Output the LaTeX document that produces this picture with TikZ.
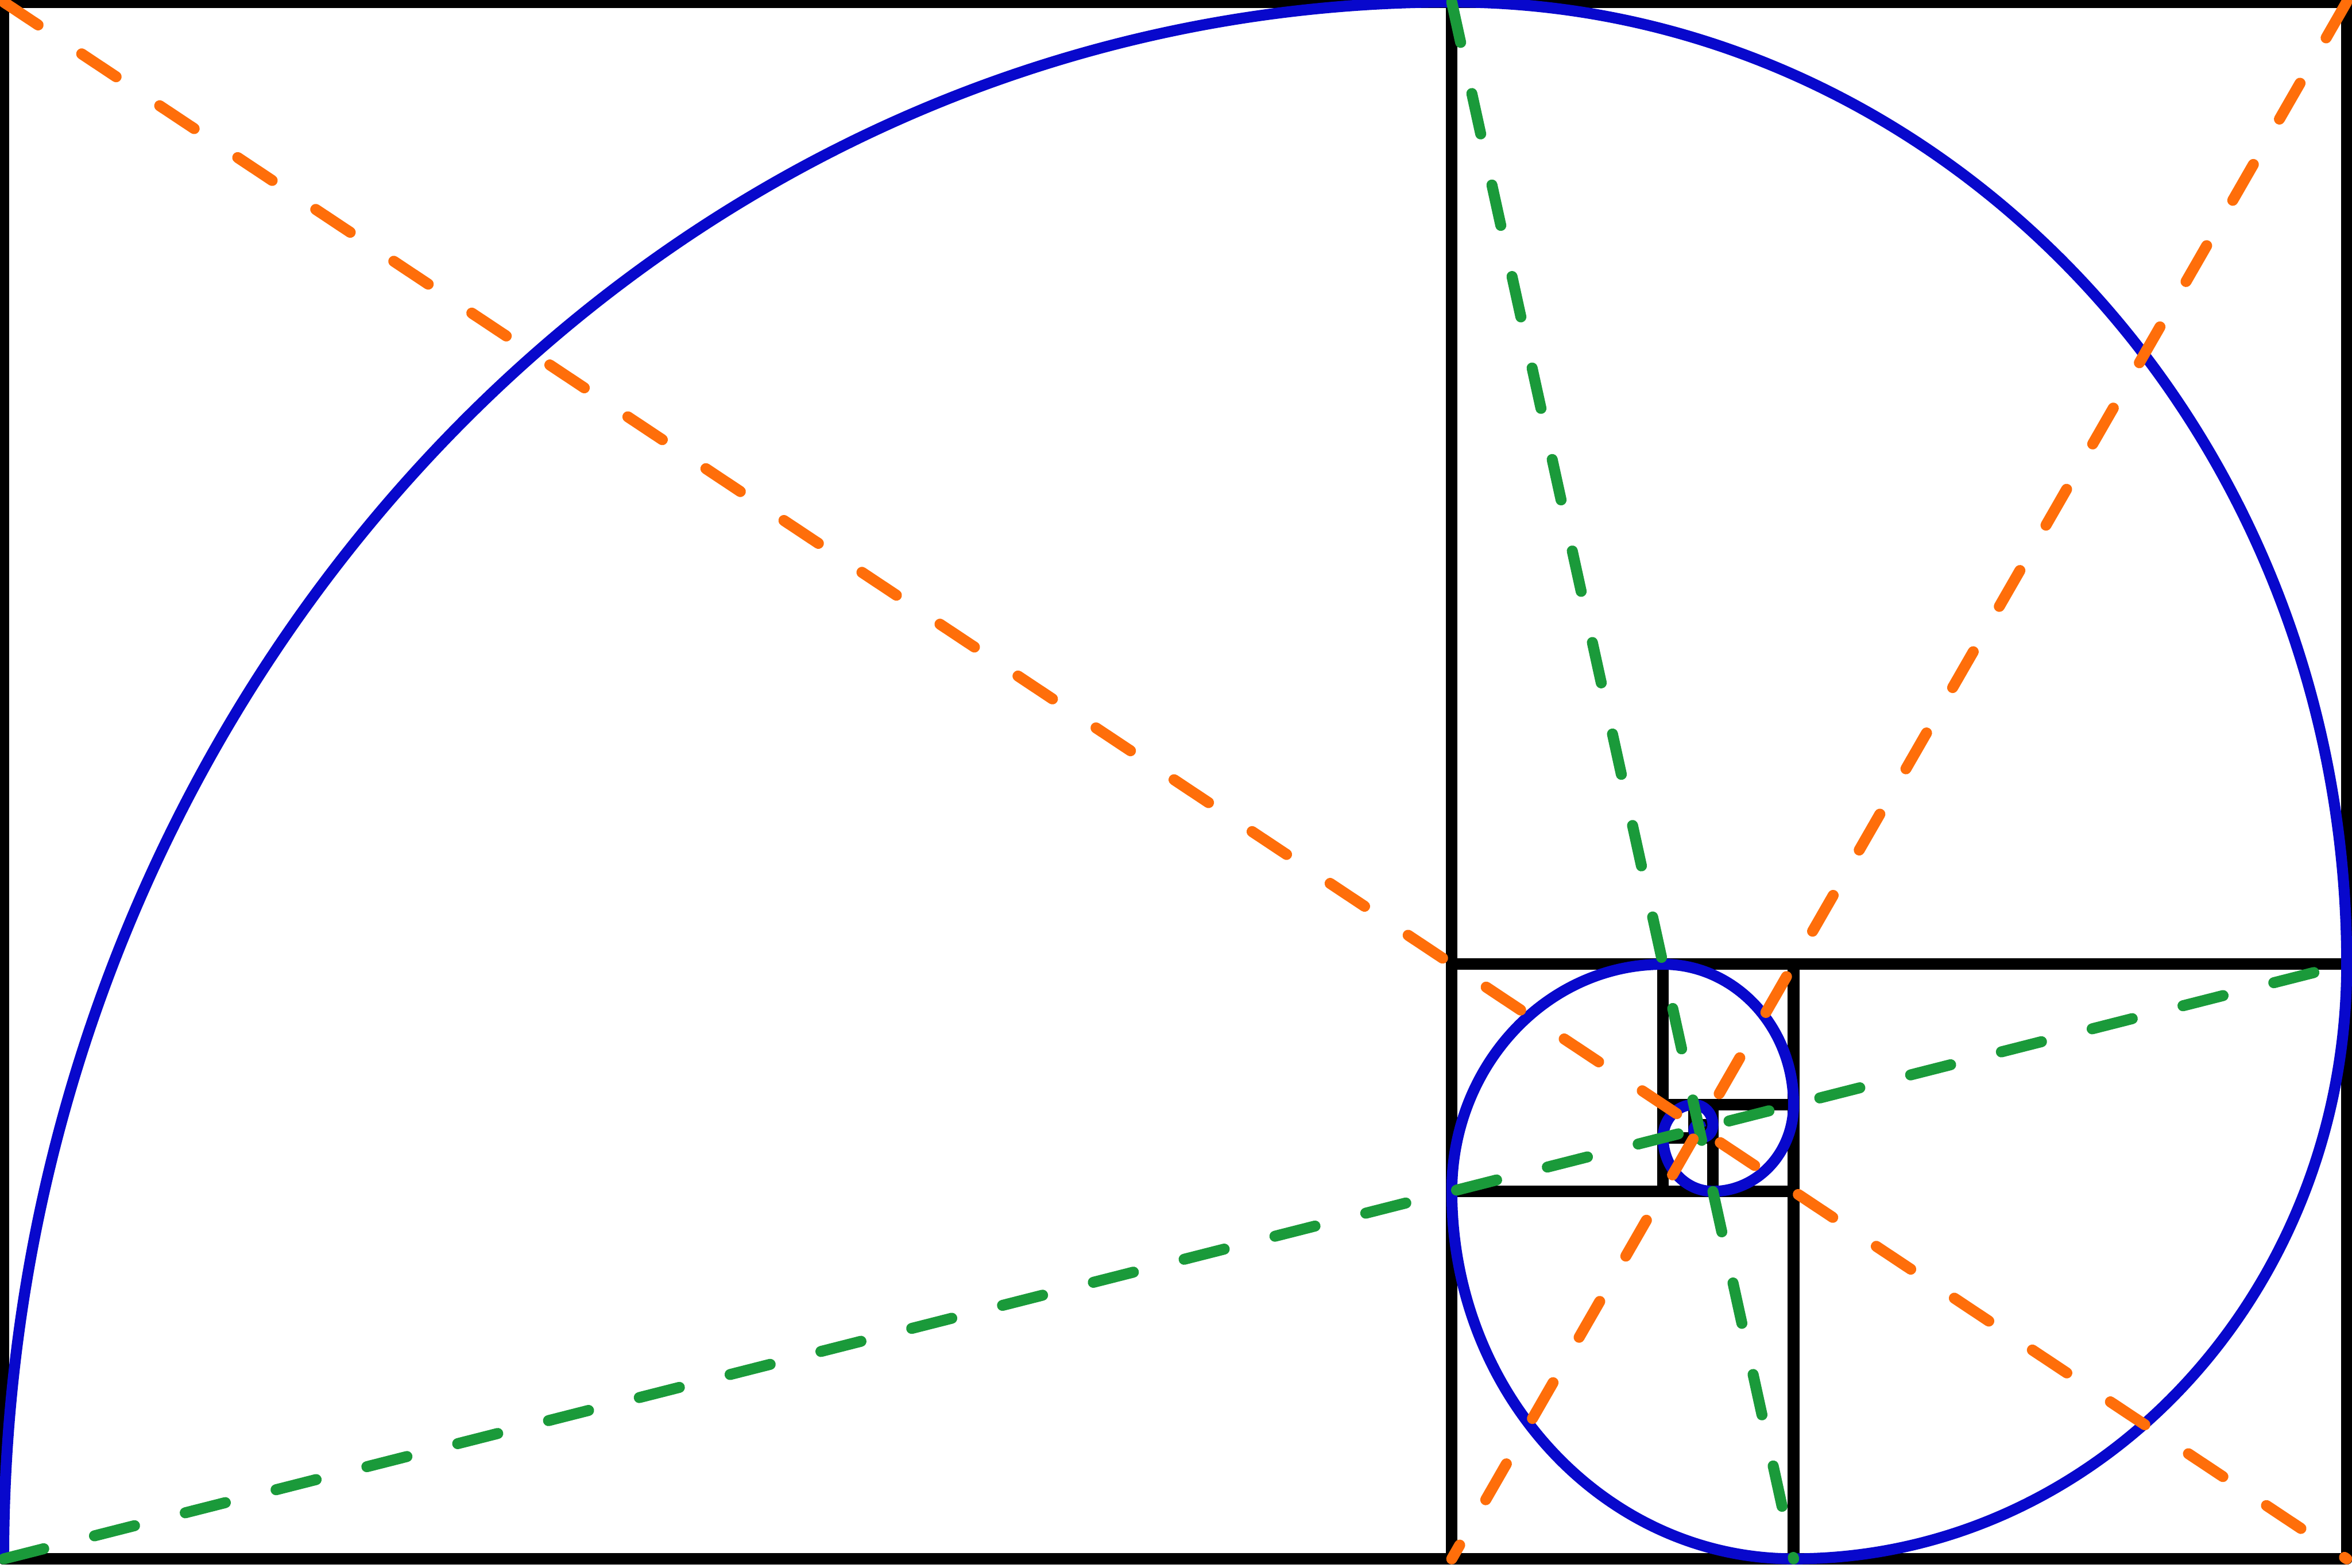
\documentclass[tikz,border=0pt]{standalone}
\usepackage{tikz}
\usepackage{xcolor}
\definecolor{ink}{HTML}{000000}
\definecolor{spiralblue}{HTML}{0808CC}
\definecolor{diagorange}{HTML}{FF6E0A}
\definecolor{diaggreen}{HTML}{1A9A3A}
\tikzset{
  sqline/.style={draw=ink,line width=2.1pt,line join=round},
  spiral/.style={draw=spiralblue,line width=2pt},
  orangediag/.style={draw=diagorange,line width=2pt,line cap=round,
                     dash pattern=on 7.5pt off 9.5pt},
  greendiag/.style={draw=diaggreen,line width=2pt,line cap=round,
                    dash pattern=on 7.5pt off 9.5pt}
}
\begin{document}
\begin{tikzpicture}
    \path[use as bounding box] (0,0) rectangle (15,10);

  \begin{scope}[shift={(0.0233cm,0.0567cm)},x=9.2353cm,y=9.93cm]
    \coordinate (bl) at (0,0);
    \coordinate (tl) at (0,1);
    \coordinate (tr) at (1.618034,1);
    \coordinate (br) at (1.618034,0);
    \coordinate (mt) at (1,1);
    \coordinate (mb) at (1,0);
    \coordinate (rs) at (1.618034,0.381966);
    \coordinate (bs) at (1.236068,0);

    % golden squares
    \draw[sqline] (bl) rectangle (tr);
    \foreach \px/\py/\s in {0/0/1, 1/0.381966/0.618034, 1.236068/0/0.381966,
        1/0/0.236068, 1/0.236068/0.145898, 1.145898/0.291796/0.090170,
        1.180340/0.236068/0.055728, 1.145898/0.236068/0.034442,
        1.145898/0.270510/0.021286, 1.167184/0.278640/0.013156}
      \draw[sqline] (\px,\py) rectangle ++(\s,\s);

    % spiral
    \draw[spiral] (bl) \foreach \i in {0,...,13}
      {arc[start angle={180-90*\i},delta angle=-90,radius={0.618034^\i}]};

    \draw[greendiag] (bl) -- (rs);
    \draw[greendiag] (mt) -- (bs);
    \draw[orangediag] (tl) -- (br);
    \draw[orangediag] (tr) -- (mb);
  \end{scope}
\end{tikzpicture}
\end{document}
